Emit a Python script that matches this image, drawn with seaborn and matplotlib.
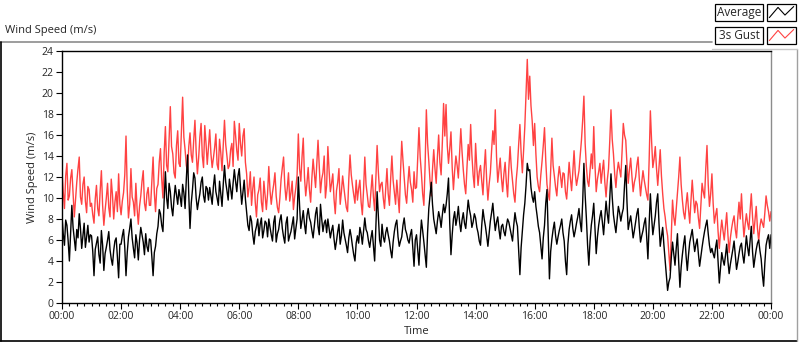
import numpy as np
import pandas as pd
import matplotlib
matplotlib.use("Agg")
import matplotlib.pyplot as plt
from matplotlib.lines import Line2D
from matplotlib.patches import Rectangle
import seaborn as sns

# ------------------------------------------------------------
# data: 2.5-minute samples (one row per hour)
# ------------------------------------------------------------
sample_minutes = 2.5

gust_ms = [
    12.5, 10.6, 9.0, 12.1, 13.3, 9.8, 10.2, 11.9, 12.7, 10.4, 8.2, 9.9, 11.5, 12.8, 13.9, 10.1, 9.4, 11.3, 12.0, 9.7, 8.6, 11.1, 10.8, 9.2,
    9.5, 8.4, 7.6, 9.9, 11.2, 9.0, 8.3, 10.7, 12.6, 9.3, 7.4, 8.8, 10.0, 11.4, 9.1, 8.2, 11.8, 10.3, 8.0, 9.6, 10.6, 8.7, 12.3, 9.4,
    8.4, 9.7, 10.5, 12.2, 15.9, 10.8, 8.1, 9.4, 12.8, 10.1, 9.6, 8.3, 11.4, 9.0, 7.5, 9.2, 10.2, 11.6, 12.6, 9.5, 8.8, 10.4, 11.0, 9.3,
    9.3, 11.6, 13.9, 10.5, 8.7, 10.9, 11.3, 13.4, 14.7, 11.8, 10.0, 14.3, 16.8, 13.1, 12.5, 15.6, 18.7, 14.9, 14.2, 12.4, 11.9, 15.0, 16.4, 13.3,
    13.0, 16.4, 19.6, 15.8, 14.6, 13.1, 12.5, 14.9, 16.2, 14.1, 13.4, 15.5, 17.4, 14.4, 12.3, 13.8, 15.8, 17.1, 14.0, 12.9, 16.9, 15.2, 13.2, 14.8,
    16.5, 14.2, 12.9, 13.8, 14.8, 16.1, 13.2, 12.7, 15.6, 14.3, 12.6, 15.0, 17.4, 15.1, 14.0, 12.8, 13.1, 14.6, 15.2, 13.0, 17.3, 16.0, 14.5, 13.6,
    17.1, 15.2, 14.0, 15.9, 16.6, 13.4, 12.3, 10.1, 11.0, 12.5, 9.3, 10.9, 12.0, 9.6, 8.2, 10.3, 10.8, 11.9, 9.6, 8.7, 11.6, 10.2, 8.9, 10.4,
    13.0, 10.7, 9.4, 10.5, 11.3, 12.4, 10.2, 9.1, 8.6, 10.0, 11.8, 12.9, 13.9, 11.2, 9.8, 10.9, 12.4, 9.7, 10.5, 11.6, 8.9, 10.1, 11.0, 12.2,
    16.1, 12.8, 11.6, 13.9, 15.7, 12.0, 10.2, 11.4, 12.9, 10.8, 9.6, 11.9, 13.7, 12.3, 11.0, 13.2, 15.5, 13.0, 10.5, 11.8, 12.4, 14.0, 10.0, 11.2,
    14.9, 12.6, 10.6, 11.4, 12.3, 9.9, 8.5, 10.7, 11.5, 12.8, 9.4, 10.6, 12.1, 11.0, 10.0, 9.1, 8.7, 11.8, 14.1, 12.2, 11.2, 10.3, 9.5, 11.7,
    9.8, 10.9, 11.7, 9.6, 8.4, 10.8, 13.9, 11.3, 10.3, 9.2, 9.1, 10.7, 12.2, 10.1, 8.8, 11.9, 15.0, 12.5, 10.6, 11.3, 11.5, 10.0, 9.0, 10.9,
    12.8, 10.4, 9.3, 11.8, 14.0, 11.7, 10.5, 9.4, 11.7, 10.2, 8.6, 12.4, 15.4, 13.6, 12.0, 10.3, 9.5, 11.4, 13.0, 11.5, 10.8, 9.6, 12.5, 10.9,
    11.0, 13.8, 16.7, 13.9, 12.3, 10.4, 9.3, 13.1, 18.4, 15.2, 13.5, 11.6, 10.2, 12.7, 14.6, 12.8, 11.4, 13.9, 16.0, 13.4, 12.2, 15.3, 19.0, 15.9,
    18.9, 15.0, 13.3, 14.7, 16.3, 12.9, 10.8, 12.6, 14.0, 13.1, 11.9, 14.2, 16.6, 14.4, 12.7, 11.3, 10.4, 12.9, 15.1, 13.6, 17.0, 14.1, 12.2, 11.0,
    15.2, 12.9, 11.2, 12.5, 13.1, 11.6, 10.3, 12.8, 14.6, 11.7, 9.8, 11.3, 12.4, 14.5, 16.4, 15.1, 18.4, 14.0, 11.5, 12.7, 13.8, 11.9, 10.6, 12.3,
    13.4, 11.5, 10.1, 12.8, 14.9, 12.9, 11.6, 10.4, 9.6, 11.7, 13.0, 15.1, 17.0, 14.3, 12.4, 14.5, 16.8, 20.1, 23.2, 19.4, 21.6, 18.8, 17.3, 15.0,
    17.1, 14.2, 12.0, 11.1, 10.6, 12.2, 13.5, 15.0, 16.7, 13.6, 11.3, 10.4, 9.8, 12.6, 15.7, 13.1, 12.1, 11.0, 10.2, 11.9, 13.0, 12.1, 11.0, 12.4,
    12.3, 10.6, 9.9, 11.6, 13.4, 11.9, 10.7, 12.5, 14.5, 12.3, 11.2, 11.9, 12.6, 14.1, 15.5, 17.4, 19.7, 15.2, 13.0, 11.6, 11.1, 12.7, 14.2, 12.8,
    16.8, 13.1, 10.6, 11.8, 12.5, 13.3, 11.4, 12.6, 13.6, 11.5, 10.1, 11.7, 12.8, 15.4, 18.4, 15.6, 14.2, 12.3, 11.0, 12.5, 13.4, 12.7, 12.0, 14.4,
    17.1, 16.0, 15.5, 13.2, 11.4, 12.7, 13.8, 12.1, 10.6, 11.5, 12.0, 13.1, 13.9, 11.8, 10.2, 11.5, 12.6, 11.7, 11.0, 10.3, 9.8, 13.6, 18.3, 15.4,
    12.9, 13.7, 14.9, 12.8, 11.2, 12.9, 14.6, 12.1, 10.4, 9.0, 8.2, 7.1, 6.4, 4.8, 3.1, 6.5, 9.8, 8.2, 7.4, 8.9, 10.3, 12.0, 13.9, 11.3,
    9.8, 8.6, 8.0, 9.4, 10.5, 8.9, 7.6, 9.8, 11.7, 10.0, 8.6, 9.7, 9.4, 8.1, 7.1, 9.3, 11.4, 10.6, 10.0, 12.8, 15.0, 11.3, 9.2, 10.4,
    12.3, 9.5, 7.6, 8.4, 9.0, 6.8, 5.2, 6.7, 7.9, 6.9, 6.0, 7.3, 8.6, 6.5, 4.8, 6.2, 7.1, 7.8, 8.3, 7.0, 6.2, 8.1, 9.6, 8.0,
    10.4, 8.1, 6.3, 7.5, 8.5, 7.6, 7.0, 8.8, 10.4, 8.2, 6.6, 7.9, 9.2, 7.1, 5.9, 7.3, 8.0, 7.6, 7.2, 8.6, 10.2, 9.3, 8.7, 7.8,
    8.7,
]

avg_ms = [
    8.2, 6.6, 5.5, 7.9, 7.4, 5.9, 4.0, 6.7, 9.3, 7.2, 6.1, 5.0, 7.0, 6.2, 8.5, 7.1, 5.2, 6.4, 7.6, 5.3, 6.3, 7.4, 5.8, 6.5,
    6.4, 4.9, 2.6, 5.1, 5.7, 6.3, 4.6, 3.8, 6.9, 5.5, 3.1, 4.7, 5.3, 6.0, 6.8, 5.1, 4.2, 3.6, 5.0, 5.9, 6.2, 4.4, 2.4, 5.6,
    5.6, 6.4, 7.0, 5.3, 2.6, 4.8, 6.3, 7.1, 8.0, 6.2, 5.2, 4.3, 6.5, 5.7, 4.1, 6.0, 7.2, 6.5, 5.8, 4.6, 6.6, 5.4, 4.9, 6.1,
    6.0, 4.4, 2.6, 4.8, 5.4, 6.6, 7.3, 8.9, 8.5, 7.4, 6.8, 9.8, 12.5, 10.0, 9.0, 11.4, 10.6, 9.1, 8.3, 9.9, 11.2, 10.3, 9.4, 10.8,
    10.1, 9.2, 11.3, 10.5, 9.0, 11.8, 14.1, 10.3, 7.1, 9.5, 10.8, 12.4, 11.9, 10.0, 8.9, 9.7, 10.4, 11.5, 12.0, 10.2, 9.6, 11.1, 10.9, 9.8,
    11.0, 10.2, 9.4, 11.1, 12.2, 10.6, 10.0, 9.3, 11.6, 10.4, 9.2, 11.3, 13.1, 11.5, 10.7, 9.8, 11.8, 10.9, 9.9, 11.4, 12.7, 11.6, 10.6, 12.1,
    12.8, 11.0, 9.4, 10.6, 11.7, 9.9, 8.6, 7.4, 6.9, 8.3, 7.8, 6.5, 5.6, 6.8, 7.3, 8.0, 6.4, 7.5, 8.1, 6.2, 6.9, 7.8, 7.6, 6.3,
    8.0, 7.2, 6.5, 5.9, 7.7, 8.3, 5.8, 6.6, 7.0, 7.9, 8.4, 7.1, 6.3, 5.7, 7.6, 8.2, 5.9, 6.4, 6.8, 7.5, 8.2, 6.1, 7.1, 8.0,
    12.0, 9.3, 7.1, 7.9, 8.8, 7.5, 6.6, 8.3, 9.0, 8.1, 7.7, 6.9, 6.2, 7.4, 8.5, 9.1, 7.3, 6.5, 9.4, 8.0, 6.8, 7.6, 7.9, 6.7,
    8.0, 7.1, 6.2, 6.9, 7.4, 6.1, 5.1, 5.9, 6.8, 7.5, 5.6, 6.4, 7.9, 6.7, 6.1, 5.5, 4.8, 6.2, 7.0, 6.3, 5.4, 4.6, 4.0, 5.7,
    6.4, 5.7, 7.2, 6.6, 5.6, 6.9, 8.1, 7.0, 6.7, 5.9, 5.3, 6.2, 6.9, 5.5, 4.0, 7.3, 10.6, 8.2, 6.0, 5.4, 7.5, 6.3, 5.8, 6.7,
    7.2, 6.5, 5.9, 5.0, 4.3, 5.8, 6.8, 7.5, 7.9, 6.3, 5.4, 5.9, 6.3, 7.4, 8.1, 7.0, 6.6, 6.0, 5.7, 6.5, 7.0, 5.2, 3.5, 6.0,
    6.5, 5.1, 3.6, 6.1, 7.9, 6.9, 5.8, 4.6, 3.4, 6.7, 9.0, 10.2, 11.5, 9.4, 8.0, 7.3, 6.6, 7.8, 8.7, 8.1, 7.2, 8.4, 9.4, 8.6,
    9.3, 10.4, 11.9, 7.6, 4.6, 6.5, 8.0, 8.7, 7.4, 8.1, 9.2, 7.7, 6.8, 7.9, 8.6, 7.6, 7.1, 8.4, 9.8, 8.9, 8.3, 7.2, 7.7, 8.5,
    8.1, 7.2, 6.7, 5.9, 5.5, 7.4, 8.9, 8.0, 7.3, 6.4, 5.4, 6.6, 7.8, 8.6, 9.5, 8.1, 6.9, 7.7, 8.2, 7.0, 6.1, 7.3, 7.5, 6.8,
    6.4, 7.3, 8.0, 7.7, 7.1, 6.5, 5.9, 7.4, 8.6, 7.8, 7.3, 4.9, 2.7, 5.3, 6.8, 8.4, 9.5, 11.2, 13.3, 12.6, 12.7, 11.0, 10.1, 9.6,
    10.6, 9.2, 8.3, 7.3, 6.7, 5.4, 4.2, 6.2, 7.4, 9.5, 10.8, 6.6, 2.3, 4.9, 6.1, 7.0, 7.7, 6.4, 5.6, 6.3, 6.9, 7.4, 8.0, 6.7,
    5.9, 4.0, 2.7, 5.6, 7.0, 7.8, 8.4, 7.1, 6.3, 6.9, 7.6, 8.2, 9.0, 7.7, 6.8, 9.6, 13.3, 10.3, 8.1, 5.5, 3.6, 5.9, 7.4, 8.3,
    9.5, 7.0, 4.7, 6.3, 7.4, 8.2, 8.8, 7.7, 6.5, 8.1, 9.7, 8.5, 7.6, 9.9, 12.3, 10.1, 8.4, 7.5, 6.7, 8.0, 9.2, 8.6, 7.8, 8.5,
    9.0, 11.2, 13.1, 9.6, 7.0, 7.7, 8.3, 7.3, 6.2, 6.9, 7.7, 8.5, 9.0, 7.2, 5.8, 6.4, 6.9, 7.6, 8.1, 6.3, 4.2, 7.5, 10.4, 8.2,
    6.5, 7.4, 8.3, 9.6, 10.4, 7.6, 5.4, 6.3, 7.2, 5.5, 4.1, 2.6, 1.2, 2.0, 2.4, 4.3, 5.8, 4.7, 3.6, 5.2, 6.6, 3.9, 1.5, 3.4,
    4.6, 5.6, 6.4, 4.5, 3.1, 4.6, 5.8, 6.4, 7.0, 5.9, 4.9, 5.6, 6.1, 4.7, 3.5, 4.4, 5.3, 6.1, 6.8, 7.4, 7.9, 6.6, 5.5, 4.8,
    5.2, 4.7, 4.3, 5.3, 6.0, 3.9, 1.9, 3.4, 4.8, 4.1, 3.6, 4.5, 5.6, 4.0, 2.8, 3.7, 4.4, 5.1, 5.9, 4.5, 3.2, 3.9, 4.7, 5.4,
    5.7, 4.6, 3.8, 5.0, 6.4, 5.3, 4.5, 5.9, 7.3, 4.9, 3.4, 4.3, 5.1, 5.7, 6.0, 5.0, 4.2, 2.7, 1.6, 3.8, 5.5, 6.1, 6.5, 5.2,
    6.5,
]

hour_labels = ["00:00", "02:00", "04:00", "06:00", "08:00", "10:00", "12:00",
               "14:00", "16:00", "18:00", "20:00", "22:00", "00:00"]
y_ticks = list(range(0, 25, 2))
series_names = ["Average", "3s Gust"]

# ------------------------------------------------------------
# build long table
# ------------------------------------------------------------
df = pd.concat([
    pd.DataFrame({"hour": np.arange(len(avg_ms)) * sample_minutes / 60.0,
                  "speed": avg_ms, "series": "Average"}),
    pd.DataFrame({"hour": np.arange(len(gust_ms)) * sample_minutes / 60.0,
                  "speed": gust_ms, "series": "3s Gust"}),
])

sns.set_theme(style="white")
plt.rcParams["font.family"] = ["Open Sans", "DejaVu Sans"]
plt.rcParams["font.size"] = 7.5

fig = plt.figure(figsize=(8.0, 3.42), dpi=100)
ax = fig.add_axes([62 / 800, 39 / 342, 709 / 800, 252 / 342])

palette = {"Average": "#000000", "3s Gust": "#ff4242"}
# gust first so the average line sits on top
sns.lineplot(data=df, x="hour", y="speed", hue="series",
             hue_order=["3s Gust", "Average"], palette=palette,
             estimator=None, sort=False, linewidth=1.0, legend=False, ax=ax)

ax.set_xlim(0, 24)
ax.set_ylim(0, 24)
ax.set_xticks(np.arange(0, 25, 2))
ax.set_xticklabels(hour_labels)
ax.set_xticks(np.arange(0, 24.01, 0.25), minor=True)
ax.set_yticks(y_ticks)
ax.set_yticklabels([str(v) for v in y_ticks])
ax.tick_params(axis="both", which="major", direction="out", length=4,
               width=0.8, color="black", labelsize=7.5, pad=2,
               bottom=True, left=True)
ax.tick_params(axis="x", which="minor", direction="out", length=2.5,
               width=0.8, color="black", bottom=True)
ax.set_xlabel("Time", fontsize=8, labelpad=3)
ax.set_ylabel("Wind Speed (m/s)", fontsize=8, labelpad=3)

for side in ["left", "bottom", "top"]:
    ax.spines[side].set_color("black")
    ax.spines[side].set_linewidth(1.0)
ax.spines["right"].set_color("#8c8c8c")
ax.spines["right"].set_linewidth(1.0)

# panel title and sunken frame
fig.text(5 / 800, 1 - 30 / 342, "Wind Speed (m/s)", fontsize=8,
         ha="left", va="center")
fig.add_artist(Line2D([0, 712 / 800], [1 - 42 / 342] * 2,
                      color="#8c8c8c", lw=1.2))
fig.add_artist(Line2D([0.5 / 800] * 2, [1 - 42 / 342, 1 / 342],
                      color="black", lw=1.2))
fig.add_artist(Line2D([0, 797 / 800], [1 / 342] * 2, color="black", lw=1.2))
fig.add_artist(Line2D([797 / 800] * 2, [1 / 342, 1 - 49 / 342],
                      color="#a0a0a0", lw=1.0))
fig.add_artist(Line2D([712 / 800, 797 / 800], [1 - 49 / 342] * 2,
                      color="#c8c8c8", lw=1.0))

# legend boxes
zigzag_x = [0.08, 0.38, 0.62, 0.92]
zigzag_y = [0.2, 0.8, 0.35, 0.85]
for i, name in enumerate(series_names):
    top = 4 + i * 23
    h = 17
    fig.add_artist(Rectangle((715 / 800, 1 - (top + h) / 342), 48 / 800,
                             h / 342, fill=False, edgecolor="black", lw=0.9,
                             transform=fig.transFigure))
    fig.text(739 / 800, 1 - (top + h / 2) / 342, name, fontsize=8.5,
             ha="center", va="center")
    fig.add_artist(Rectangle((767 / 800, 1 - (top + h) / 342), 29 / 800,
                             h / 342, fill=False, edgecolor="black", lw=0.9,
                             transform=fig.transFigure))
    sx = [(767 + 29 * v) / 800 for v in zigzag_x]
    sy = [1 - (top + h - h * v) / 342 for v in zigzag_y]
    fig.add_artist(Line2D(sx, sy, color=palette[name], lw=0.8))

fig.savefig("out.png", dpi=100)
